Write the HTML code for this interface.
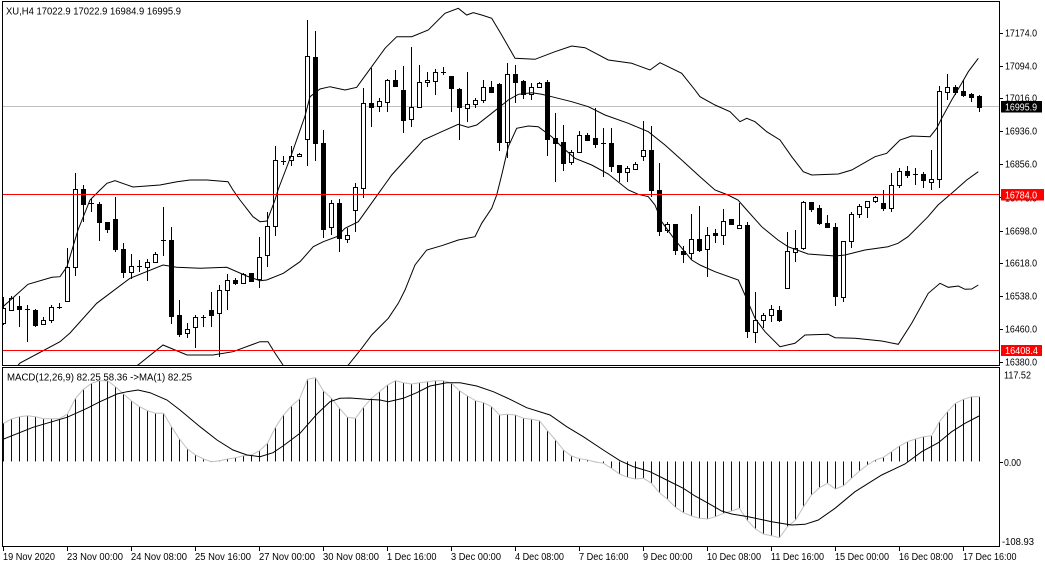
<!DOCTYPE html>
<html><head><meta charset="utf-8"><style>
html,body{margin:0;padding:0;background:#fff}
svg{display:block}
text{font-family:"Liberation Sans",sans-serif;font-size:10px;fill:#000}
</style></head><body>
<svg width="1045" height="568" viewBox="0 0 1045 568" xmlns="http://www.w3.org/2000/svg">
<defs>
<clipPath id="cm"><rect x="3" y="2" width="996" height="363"/></clipPath>
<clipPath id="cs"><rect x="3" y="368" width="996" height="178"/></clipPath>
</defs>
<rect width="1045" height="568" fill="#fff"/>

<g clip-path="url(#cm)">
<!-- current price line -->
<path d="M3 106.5H999" stroke="#c0c0c0" stroke-width="1"/>
<!-- wicks -->
<path fill="none" stroke="#000" stroke-width="1" d="M3.5 297V325M11.5 296V311M19.5 296V327M27.5 305V342M35.5 309V327M43.5 317V325M51.5 305V323M59.5 303V309M67.5 248V301M75.5 173V276M83.5 185V222M91.5 199V212M99.5 202V241M107.5 222V233M115.5 197V252M123.5 243V278M131.5 254V279M139.5 260V272M147.5 259V281M155.5 252V263M163.5 207V256M171.5 227V324M179.5 300V337M187.5 323V338M195.5 315V348M203.5 315V327M211.5 292V327M219.5 285V357M227.5 274V310M235.5 278V285M243.5 273V284M251.5 273V281M259.5 237V288M267.5 212V267M275.5 146V236M283.5 156V165M291.5 146V166M299.5 153V157M307.5 20V166M315.5 31V161M323.5 130V238M331.5 200V235M339.5 199V252M347.5 228V243M355.5 183V232M363.5 88V198M371.5 68V127M379.5 98V112M387.5 79V112M395.5 70V86M403.5 66V133M411.5 47V127M419.5 65V108M427.5 72V87M435.5 69V95M443.5 67V75M451.5 76V112M459.5 88V140M467.5 72V122M475.5 98V108M483.5 80V103M491.5 81V93M499.5 83V151M507.5 63V158M515.5 65V103M523.5 80V99M531.5 83V100M539.5 82V88M547.5 80V156M555.5 113V182M563.5 125V171M571.5 150V165M579.5 131V152M587.5 133V141M595.5 108V148M603.5 128V177M611.5 128V172M619.5 165V182M627.5 166V182M635.5 162V170M643.5 121V161M651.5 126V197M659.5 163V236M667.5 222V233M675.5 224V255M683.5 246V263M691.5 214V260M699.5 206V252M707.5 227V277M715.5 229V243M723.5 209V245M731.5 219V225M739.5 203V228M747.5 222V338M755.5 292V343M763.5 313V328M771.5 305V322M779.5 306V322M787.5 232V289M795.5 230V262M803.5 201V250M811.5 202V212M819.5 205V225M827.5 215V227M835.5 223V306M843.5 241V302M851.5 212V248M859.5 204V218M867.5 201V218M875.5 196V203M883.5 190V211M891.5 173V212M899.5 168V188M907.5 166V178M915.5 168V185M923.5 172V188M931.5 150V190M939.5 86V188M947.5 74V100M955.5 85V95M963.5 80V97M971.5 93V102M979.5 95V112"/>
<!-- doji -->
<path fill="none" stroke="#000" stroke-width="1" d="M25 309.5h5M57 307.5h5M89 203.5h5M137 266.5h5M161 240.5h5M201 317.5h5M281 161.5h5M441 72.5h5M601 143.5h5M913 174.5h5"/>
<!-- black bodies -->
<path fill="#000" d="M17 306h5v4h-5zM33 310h5v16h-5zM81 189h5v16h-5zM97 204h5v19h-5zM105 222h5v8h-5zM113 219h5v31h-5zM121 249h5v24h-5zM169 240h5v77h-5zM177 315h5v20h-5zM209 310h5v6h-5zM233 280h5v4h-5zM249 273h5v9h-5zM313 57h5v87h-5zM321 143h5v87h-5zM337 203h5v36h-5zM369 103h5v5h-5zM393 80h5v7h-5zM401 90h5v31h-5zM449 76h5v13h-5zM457 89h5v19h-5zM489 87h5v6h-5zM497 84h5v59h-5zM513 74h5v9h-5zM521 81h5v14h-5zM545 82h5v58h-5zM553 138h5v6h-5zM561 142h5v22h-5zM585 135h5v6h-5zM593 138h5v7h-5zM609 143h5v24h-5zM617 165h5v8h-5zM649 150h5v41h-5zM657 190h5v42h-5zM673 224h5v27h-5zM681 251h5v4h-5zM697 239h5v12h-5zM713 233h5v3h-5zM729 219h5v6h-5zM745 225h5v107h-5zM777 310h5v11h-5zM809 202h5v8h-5zM817 208h5v16h-5zM825 223h5v5h-5zM833 227h5v70h-5zM881 203h5v6h-5zM905 171h5v5h-5zM921 174h5v7h-5zM953 87h5v6h-5zM961 91h5v5h-5zM969 94h5v4h-5zM977 96h5v12h-5z"/>
<!-- white bodies -->
<path fill="#fff" stroke="#000" stroke-width="1" d="M1.5 308.5h4v15h-4zM9.5 298.5h4v12h-4zM41.5 320.5h4v4h-4zM49.5 307.5h4v13h-4zM65.5 267.5h4v34h-4zM73.5 189.5h4v78h-4zM129.5 266.5h4v6h-4zM145.5 262.5h4v5h-4zM153.5 254.5h4v8h-4zM185.5 329.5h4v4h-4zM193.5 317.5h4v10h-4zM217.5 290.5h4v23h-4zM225.5 280.5h4v10h-4zM241.5 274.5h4v9h-4zM257.5 257.5h4v22h-4zM265.5 226.5h4v29h-4zM273.5 160.5h4v66h-4zM289.5 156.5h4v4h-4zM297.5 154.5h4v2h-4zM305.5 56.5h4v83h-4zM329.5 203.5h4v24h-4zM345.5 235.5h4v4h-4zM353.5 187.5h4v23h-4zM361.5 103.5h4v85h-4zM377.5 101.5h4v5h-4zM385.5 80.5h4v22h-4zM409.5 107.5h4v12h-4zM417.5 82.5h4v25h-4zM425.5 80.5h4v2h-4zM433.5 72.5h4v9h-4zM465.5 104.5h4v4h-4zM473.5 100.5h4v4h-4zM481.5 87.5h4v13h-4zM505.5 74.5h4v68h-4zM529.5 87.5h4v7h-4zM537.5 83.5h4v4h-4zM569.5 152.5h4v10h-4zM577.5 135.5h4v17h-4zM625.5 168.5h4v4h-4zM633.5 164.5h4v5h-4zM641.5 150.5h4v6h-4zM665.5 224.5h4v6h-4zM689.5 239.5h4v14h-4zM705.5 235.5h4v14h-4zM721.5 221.5h4v14h-4zM737.5 225.5h4v3h-4zM753.5 320.5h4v12h-4zM761.5 315.5h4v5h-4zM769.5 309.5h4v6h-4zM785.5 251.5h4v37h-4zM793.5 248.5h4v4h-4zM801.5 202.5h4v46h-4zM841.5 241.5h4v56h-4zM849.5 214.5h4v27h-4zM857.5 206.5h4v8h-4zM865.5 201.5h4v6h-4zM873.5 197.5h4v4h-4zM889.5 185.5h4v23h-4zM897.5 171.5h4v14h-4zM929.5 179.5h4v3h-4zM937.5 91.5h4v88h-4zM945.5 87.5h4v5h-4z"/>
<!-- Bollinger bands -->
<polyline fill="none" stroke="#000" stroke-width="1" points="3,306.7 28,284.3 52,277.3 60,276.7 67,266.7 78,230 90,200 100,190 107,183.3 115,180.7 133,187 160,185 177,181.7 190,180 207,180 228,181.7 233,190 240,200 253,216.7 260,221.7 267,221 275,200 278,190 291,156 305,116 310,96.7 320,89 330,86.7 345,90 356.7,87.3 371.7,66.7 385,48.3 396.7,36.7 411.7,36.7 428.3,30 445,13.3 458.3,8.3 466.7,15 473.3,12.7 481.7,15 491.7,18.3 501.7,35 515,58.3 535,59.3 555,51.7 571.7,46 585,47.7 608.3,60 631.7,63.3 650,70 660,62.7 681.7,73.3 695,90 700,96.7 715,105 730,111.7 740,121.7 746.7,118.3 755,121.7 766.7,131.7 780,140 791.7,156.7 803.3,171.7 811.7,175 838.3,174 851.7,170 875,156.7 886.7,153.3 900,140 911.7,136 930,136.7 936.7,128.3 941.7,118.3 951.7,100 961.7,83.3 968.3,71.7 978.3,58.3"/>
<polyline fill="none" stroke="#000" stroke-width="1" points="14,370 20,363 60,341.7 70,333 96.7,303.3 130,278.3 163,265 176.7,267.3 200,268.3 226.7,267.3 246.7,276 260,280.7 266.7,280 283.3,273.3 300,261.7 313.3,246.7 323.3,241.7 336.7,236.7 345,228.3 358.3,221.7 375,198.3 391.7,175 423.3,140 441.7,131.7 458.3,124.3 468.3,127.3 476.7,125 491.7,113.3 508.3,100 518.3,94.3 531.7,92.7 541.7,94.3 551.7,96.7 571.7,101.7 588.3,106.7 605,115 628.3,123.3 648.3,131.7 665,145 681.7,160 700,176.7 715,190 728,195 738,200 745,208 761.7,226.7 778,240 788,246.7 808,254 835,256 845,255 865,250 888,246.7 898,243.3 908,236.7 928,216.7 938,205 951.7,193.3 966.7,180 978.3,171.7"/>
<polyline fill="none" stroke="#000" stroke-width="1" points="125,372 138,365 163,345 187,355 213,355 233,351.7 260,341.7 268,341.7 275,353 283,365 290,375 300,382 335,382 348.3,365 361.7,348.3 371.7,335 388.3,318.3 398.3,303.3 405,290 415,265 426.7,250 441.7,245.7 458.3,240 475,236.7 481.7,223.3 491.7,208.3 496.7,195 501.7,175 508.3,146.7 516.7,128.3 528.3,126 538.3,126.7 551.7,136.7 561.7,146.7 575,158.3 591.7,165 608.3,174 628.3,190 638.3,194.3 648.3,196.7 655,205 661.7,221.7 675,240 691.7,260 700,265 715,271.7 738.3,280 745,295 755,318.3 765,331.7 780,346.7 795,343.3 805,335 828.3,334.3 835,337.7 855,338.3 881.7,341 898.3,344.3 911.7,323.3 928.3,293.3 940,283.3 948.3,287.3 958.3,286 965,289.3 971.7,289 978.3,285"/>
<!-- horizontal lines -->
<path d="M3 194.5H999M3 350.5H999" stroke="#ff0000" stroke-width="1"/>
</g>

<!-- MACD subwindow -->
<g clip-path="url(#cs)">
<path fill="none" stroke="#000080" stroke-width="1" d="M3.5 461.5V423.3M11.5 461.5V419M19.5 461.5V416.7M27.5 461.5V415.7M35.5 461.5V416.7M43.5 461.5V418.7M51.5 461.5V418.7M59.5 461.5V418.7M67.5 461.5V414M75.5 461.5V398.3M83.5 461.5V389.3M91.5 461.5V383.3M99.5 461.5V380.7M107.5 461.5V380.7M115.5 461.5V386.7M123.5 461.5V394M131.5 461.5V401M139.5 461.5V406.7M147.5 461.5V410.7M155.5 461.5V413.3M163.5 461.5V413.3M171.5 461.5V426.7M179.5 461.5V439M187.5 461.5V449M195.5 461.5V455M203.5 461.5V459M211.5 461.5V461M219.5 461.5V460.7M227.5 461.5V459M235.5 461.5V457.7M243.5 461.5V455.7M251.5 461.5V455M259.5 461.5V450.7M267.5 461.5V443.3M275.5 461.5V427.3M283.5 461.5V415M291.5 461.5V406M299.5 461.5V399M307.5 461.5V379.3M315.5 461.5V377.7M323.5 461.5V391M331.5 461.5V398.3M339.5 461.5V408.3M347.5 461.5V417.3M355.5 461.5V418.3M363.5 461.5V407.3M371.5 461.5V398.3M379.5 461.5V391.7M387.5 461.5V385M395.5 461.5V380.7M403.5 461.5V382.7M411.5 461.5V384M419.5 461.5V382.7M427.5 461.5V381.7M435.5 461.5V380.7M443.5 461.5V380.7M451.5 461.5V383.3M459.5 461.5V390.7M467.5 461.5V396M475.5 461.5V400.7M483.5 461.5V402.7M491.5 461.5V406.7M499.5 461.5V415M507.5 461.5V414.3M515.5 461.5V415M523.5 461.5V418.3M531.5 461.5V419.3M539.5 461.5V420.7M547.5 461.5V430.7M555.5 461.5V440M563.5 461.5V450M571.5 461.5V456M579.5 461.5V458.7M587.5 461.5V460M595.5 461.5V462.5M603.5 461.5V463.3M611.5 461.5V468.3M619.5 461.5V474M627.5 461.5V477.3M635.5 461.5V479M643.5 461.5V478.3M651.5 461.5V483.3M659.5 461.5V492.7M667.5 461.5V499.3M675.5 461.5V507.3M683.5 461.5V512.7M691.5 461.5V516M699.5 461.5V518.3M707.5 461.5V519M715.5 461.5V516.7M723.5 461.5V513.3M731.5 461.5V511M739.5 461.5V508.3M747.5 461.5V520.7M755.5 461.5V529M763.5 461.5V534M771.5 461.5V535.7M779.5 461.5V537.7M787.5 461.5V526.7M795.5 461.5V520M803.5 461.5V506.7M811.5 461.5V495M819.5 461.5V487.7M827.5 461.5V483.3M835.5 461.5V489M843.5 461.5V485.7M851.5 461.5V478.3M859.5 461.5V471M867.5 461.5V465M875.5 461.5V460M883.5 461.5V457.3M891.5 461.5V451.7M899.5 461.5V446M907.5 461.5V441.7M915.5 461.5V439M923.5 461.5V436.7M931.5 461.5V435.7M939.5 461.5V421.7M947.5 461.5V411.7M955.5 461.5V403.3M963.5 461.5V399.3M971.5 461.5V396.7M979.5 461.5V396.7"/>
<polyline fill="none" stroke="#c0c0c0" stroke-width="1" points="3.5,423.3 11.5,419 19.5,416.7 27.5,415.7 35.5,416.7 43.5,418.7 51.5,418.7 59.5,418.7 67.5,414 75.5,398.3 83.5,389.3 91.5,383.3 99.5,380.7 107.5,380.7 115.5,386.7 123.5,394 131.5,401 139.5,406.7 147.5,410.7 155.5,413.3 163.5,413.3 171.5,426.7 179.5,439 187.5,449 195.5,455 203.5,459 211.5,461.7 219.5,460.7 227.5,459 235.5,457.7 243.5,455.7 251.5,455 259.5,450.7 267.5,443.3 275.5,427.3 283.5,415 291.5,406 299.5,399 307.5,379.3 315.5,377.7 323.5,391 331.5,398.3 339.5,408.3 347.5,417.3 355.5,418.3 363.5,407.3 371.5,398.3 379.5,391.7 387.5,385 395.5,380.7 403.5,382.7 411.5,384 419.5,382.7 427.5,381.7 435.5,380.7 443.5,380.7 451.5,383.3 459.5,390.7 467.5,396 475.5,400.7 483.5,402.7 491.5,406.7 499.5,415 507.5,414.3 515.5,415 523.5,418.3 531.5,419.3 539.5,420.7 547.5,430.7 555.5,440 563.5,450 571.5,456 579.5,458.7 587.5,460 595.5,462 603.5,463.3 611.5,468.3 619.5,474 627.5,477.3 635.5,479 643.5,478.3 651.5,483.3 659.5,492.7 667.5,499.3 675.5,507.3 683.5,512.7 691.5,516 699.5,518.3 707.5,519 715.5,516.7 723.5,513.3 731.5,511 739.5,508.3 747.5,520.7 755.5,529 763.5,534 771.5,535.7 779.5,537.7 787.5,526.7 795.5,520 803.5,506.7 811.5,495 819.5,487.7 827.5,483.3 835.5,489 843.5,485.7 851.5,478.3 859.5,471 867.5,465 875.5,460 883.5,457.3 891.5,451.7 899.5,446 907.5,441.7 915.5,439 923.5,436.7 931.5,435.7 939.5,421.7 947.5,411.7 955.5,403.3 963.5,399.3 971.5,396.7 979.5,396.7"/>
<polyline fill="none" stroke="#000" stroke-width="1" points="3,439.3 33,427.3 67,417.3 87,408.3 100,401.7 117,394 127,391.7 138,390 150,392.7 167,400 180,410 200,426.7 217,440 233,450 247,455 260,456.7 273,452.7 283,446 300,433.3 317,414 330,401.7 340,398.3 350,398 366.7,399.3 380,400 388.3,401.7 403.3,398.3 416.7,392.7 430,386 446.7,382.7 460,382.7 476.7,386 493.3,391.7 510,399.3 526.7,407.7 550,415 566.7,426.7 583.3,436.7 603.3,450 620,460.7 633.3,466.7 650,471.7 666.7,480 683.3,488.3 695,496 708.3,503.3 721.7,511 731.7,514 748.3,516.7 771.7,521.7 791.7,525 805,524.3 818.3,520 835,508.3 855,491.7 881.7,475 905,464 921.7,451.7 938.3,442.7 951.7,431.7 965,423.3 979,416"/>
</g>

<!-- frames -->
<rect x="2.5" y="1.5" width="997" height="364" fill="none" stroke="#000" stroke-width="1"/>
<rect x="2.5" y="367.5" width="997" height="179" fill="none" stroke="#000" stroke-width="1"/>

<!-- price axis ticks -->
<path stroke="#000" stroke-width="1" d="M999 33.5h4M999 66.5h4M999 98.5h4M999 131.5h4M999 164.5h4M999 197.5h4M999 231.5h4M999 263.5h4M999 296.5h4M999 329.5h4M999 362.5h4M999 462.5h4"/>
<text x="1005" y="36.5" textLength="32" lengthAdjust="spacingAndGlyphs">17174.0</text>
<text x="1005" y="69.5" textLength="32" lengthAdjust="spacingAndGlyphs">17094.0</text>
<text x="1005" y="101.5" textLength="32" lengthAdjust="spacingAndGlyphs">17016.0</text>
<text x="1005" y="134.5" textLength="32" lengthAdjust="spacingAndGlyphs">16936.0</text>
<text x="1005" y="167.5" textLength="32" lengthAdjust="spacingAndGlyphs">16856.0</text>
<text x="1005" y="201.5" textLength="32" lengthAdjust="spacingAndGlyphs">16776.0</text>
<text x="1005" y="234.5" textLength="32" lengthAdjust="spacingAndGlyphs">16698.0</text>
<text x="1005" y="266.5" textLength="32" lengthAdjust="spacingAndGlyphs">16618.0</text>
<text x="1005" y="299.5" textLength="32" lengthAdjust="spacingAndGlyphs">16538.0</text>
<text x="1005" y="332.5" textLength="32" lengthAdjust="spacingAndGlyphs">16460.0</text>
<text x="1005" y="365.5" textLength="32" lengthAdjust="spacingAndGlyphs">16380.0</text>

<!-- price tags -->
<rect x="1001" y="101" width="41" height="11.5" fill="#000"/>
<text x="1005" y="110.5" textLength="32" lengthAdjust="spacingAndGlyphs" style="fill:#fff">16995.9</text>
<rect x="1001" y="189" width="43" height="11.5" fill="#ff0000"/>
<text x="1005" y="198.5" textLength="32" lengthAdjust="spacingAndGlyphs" style="fill:#fff">16784.0</text>
<rect x="1001" y="345" width="41" height="11" fill="#ff0000"/>
<text x="1005" y="354" textLength="33" lengthAdjust="spacingAndGlyphs" style="fill:#fff">16408.4</text>

<!-- MACD axis -->
<text x="1004" y="378.5" textLength="27" lengthAdjust="spacingAndGlyphs">117.52</text>
<text x="1004" y="466" textLength="17" lengthAdjust="spacingAndGlyphs">0.00</text>
<text x="1002" y="545" textLength="32" lengthAdjust="spacingAndGlyphs">-108.93</text>

<!-- labels -->
<text x="6" y="14.5" textLength="175" lengthAdjust="spacingAndGlyphs">XU,H4  17022.9 17022.9 16984.9 16995.9</text>
<text x="7" y="380.5" textLength="185" lengthAdjust="spacingAndGlyphs">MACD(12,26,9) 82.25 58.36  -&gt;MA(1) 82.25</text>

<!-- time axis -->
<path stroke="#000" stroke-width="1" d="M3.5 547v4M67.5 547v4M131.5 547v4M195.5 547v4M259.5 547v4M323.5 547v4M387.5 547v4M451.5 547v4M515.5 547v4M579.5 547v4M643.5 547v4M707.5 547v4M771.5 547v4M835.5 547v4M899.5 547v4M963.5 547v4"/>
<text x="3" y="560" textLength="52" lengthAdjust="spacingAndGlyphs">19 Nov 2020</text>
<text x="67" y="560" textLength="56" lengthAdjust="spacingAndGlyphs">23 Nov 00:00</text>
<text x="131" y="560" textLength="56" lengthAdjust="spacingAndGlyphs">24 Nov 08:00</text>
<text x="195" y="560" textLength="56" lengthAdjust="spacingAndGlyphs">25 Nov 16:00</text>
<text x="259" y="560" textLength="56" lengthAdjust="spacingAndGlyphs">27 Nov 00:00</text>
<text x="323" y="560" textLength="56" lengthAdjust="spacingAndGlyphs">30 Nov 08:00</text>
<text x="387" y="560" textLength="49.5" lengthAdjust="spacingAndGlyphs">1 Dec 16:00</text>
<text x="451" y="560" textLength="50" lengthAdjust="spacingAndGlyphs">3 Dec 00:00</text>
<text x="515" y="560" textLength="49" lengthAdjust="spacingAndGlyphs">4 Dec 08:00</text>
<text x="579" y="560" textLength="49.5" lengthAdjust="spacingAndGlyphs">7 Dec 16:00</text>
<text x="643" y="560" textLength="49.5" lengthAdjust="spacingAndGlyphs">9 Dec 00:00</text>
<text x="707" y="560" textLength="54" lengthAdjust="spacingAndGlyphs">10 Dec 08:00</text>
<text x="771" y="560" textLength="53" lengthAdjust="spacingAndGlyphs">11 Dec 16:00</text>
<text x="835" y="560" textLength="54" lengthAdjust="spacingAndGlyphs">15 Dec 00:00</text>
<text x="899" y="560" textLength="54" lengthAdjust="spacingAndGlyphs">16 Dec 08:00</text>
<text x="963" y="560" textLength="53.5" lengthAdjust="spacingAndGlyphs">17 Dec 16:00</text>
</svg>
</body></html>
